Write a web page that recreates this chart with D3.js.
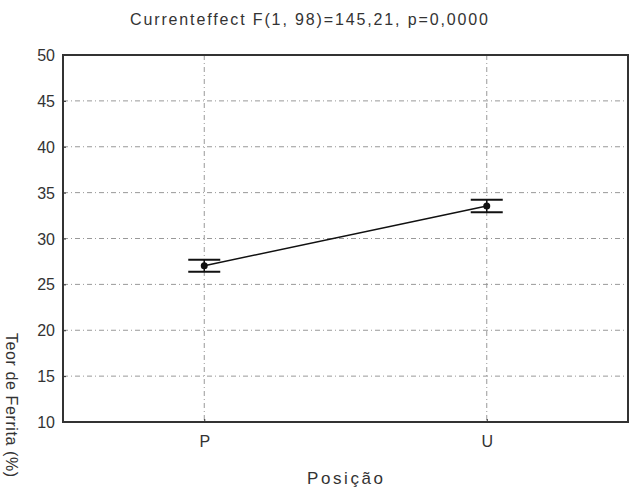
<!DOCTYPE html>
<html>
<head>
<meta charset="utf-8">
<script src="https://d3js.org/d3.v7.min.js"></script>
<style>
  body { margin: 0; background: #fff; }
  text { font-family: "Liberation Sans", Arial, sans-serif; fill: #333; }
  .grid line { stroke: #999; stroke-dasharray: 5,3,1,3; stroke-width: 1; }
</style>
</head>
<body>
<script>
// data
var categories = ["P", "U"];
var means = [27.03, 33.55];
var errLow = [26.38, 32.86];
var errHigh = [27.69, 34.23];
var yTicks = [10, 15, 20, 25, 30, 35, 40, 45, 50];

var W = 634, H = 495;
var margin = { top: 55, right: 6, bottom: 73, left: 63 };
var width = W - margin.left - margin.right,
    height = H - margin.top - margin.bottom;

var svg = d3.select("body").append("svg")
    .attr("width", W).attr("height", H);

var g = svg.append("g")
    .attr("transform", "translate(" + margin.left + "," + margin.top + ")");

var x = d3.scalePoint().domain(categories).range([0, width]).padding(0.5);
var y = d3.scaleLinear().domain([10, 50]).range([height, 0]);

// grid
var grid = g.append("g").attr("class", "grid");
grid.selectAll(".gy")
    .data(yTicks.filter(d => d > 10 && d < 50))
    .enter().append("line")
    .attr("x1", 0).attr("x2", width)
    .attr("y1", d => y(d)).attr("y2", d => y(d));
grid.selectAll(".gx")
    .data(categories)
    .enter().append("line")
    .attr("x1", d => x(d)).attr("x2", d => x(d))
    .attr("y1", 0).attr("y2", height);

// axes
var yAxis = g.append("g")
    .call(d3.axisLeft(y).tickValues(yTicks).tickSize(-3).tickPadding(8));
yAxis.select(".domain").remove();
yAxis.selectAll("line").attr("stroke", "#333");
yAxis.selectAll("text").style("font-size", "16px").attr("dy", "0.35em");

var xAxis = g.append("g")
    .attr("transform", "translate(0," + height + ")")
    .call(d3.axisBottom(x).tickSize(-3).tickPadding(14));
xAxis.select(".domain").remove();
xAxis.selectAll("line").attr("stroke", "#333");
xAxis.selectAll("text").style("font-size", "16px");

// frame
g.append("rect")
    .attr("x", 0).attr("y", 0)
    .attr("width", width).attr("height", height)
    .attr("fill", "none").attr("stroke", "#333").attr("stroke-width", 2);

// line
var pts = categories.map((c, i) => ({ c: c, m: means[i], lo: errLow[i], hi: errHigh[i] }));
g.append("path")
    .datum(pts)
    .attr("fill", "none").attr("stroke", "#111").attr("stroke-width", 1.5)
    .attr("d", d3.line().x(d => x(d.c)).y(d => y(d.m)));

// error bars
var eb = g.selectAll(".eb").data(pts).enter().append("g");
eb.append("line")
    .attr("x1", d => x(d.c)).attr("x2", d => x(d.c))
    .attr("y1", d => y(d.lo)).attr("y2", d => y(d.hi))
    .attr("stroke", "#111").attr("stroke-width", 1.5);
eb.append("line")
    .attr("x1", d => x(d.c) - 16).attr("x2", d => x(d.c) + 16)
    .attr("y1", d => y(d.hi)).attr("y2", d => y(d.hi))
    .attr("stroke", "#111").attr("stroke-width", 2);
eb.append("line")
    .attr("x1", d => x(d.c) - 16).attr("x2", d => x(d.c) + 16)
    .attr("y1", d => y(d.lo)).attr("y2", d => y(d.lo))
    .attr("stroke", "#111").attr("stroke-width", 2);
eb.append("circle")
    .attr("cx", d => x(d.c)).attr("cy", d => y(d.m))
    .attr("r", 3.5).attr("fill", "#111");

// title and labels
svg.append("text")
    .attr("x", 130).attr("y", 25)
    .attr("textLength", 358).attr("lengthAdjust", "spacing")
    .style("font-size", "16px")
    .text("Currenteffect F(1, 98)=145,21, p=0,0000");

svg.append("text")
    .attr("x", 307).attr("y", H - 11)
    .attr("textLength", 76).attr("lengthAdjust", "spacing")
    .style("font-size", "17px")
    .text("Posição");

svg.append("text")
    .attr("transform", "translate(6,333) rotate(90)")
    .style("font-size", "16px")
    .style("letter-spacing", "0.6px")
    .text("Teor de Ferrita (%)");
</script>
</body>
</html>
